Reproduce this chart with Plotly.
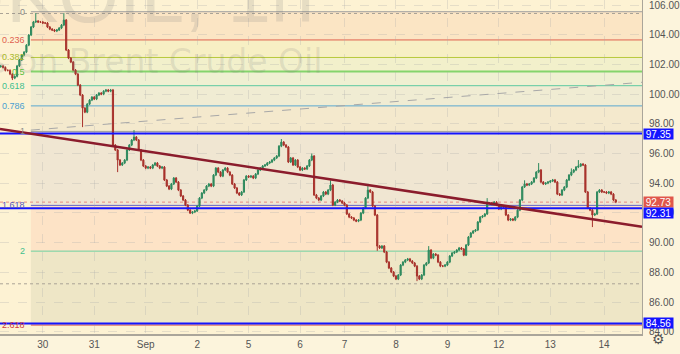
import plotly.graph_objects as go

# ---------------- data ----------------
close = [
    # Aug 29 (partial)
    101.89, 101.80, 101.60, 101.60, 101.35, 101.08, 101.20, 101.90, 102.30, 102.63,
    102.83, 103.30, 103.98, 104.52, 104.86, 104.92, 104.86, 104.86,
    # Aug 30
    104.79, 104.79, 104.52, 104.38, 104.32, 104.25, 104.32, 104.45, 104.65, 104.99,
    102.97, 102.43, 102.16, 101.62, 101.35, 100.61, 99.94, 99.06, 98.79, 99.33,
    99.60, 99.80,
    # Aug 31
    99.67, 99.94, 100.07, 100.00, 100.20, 100.28, 100.20, 100.28, 96.57, 96.24,
    95.56, 95.23, 95.36, 95.56, 96.24, 96.57, 96.91, 97.11, 96.91, 96.24,
    95.56, 95.16,
    # Sep 1
    95.02, 95.09, 95.02, 95.23, 95.36, 95.16, 95.02, 95.09, 94.22, 93.81,
    93.61, 93.95, 94.35, 94.08, 93.54, 93.14, 92.87, 92.53, 92.19, 91.99,
    92.06, 92.13,
    # Sep 2
    92.46, 93.00, 93.34, 93.54, 93.81, 93.95, 93.81, 94.55, 95.02, 94.75,
    94.48, 94.89, 95.02, 94.75, 94.55, 93.95, 93.68, 93.34, 93.21, 93.41,
    94.22, 94.48,
    # Sep 5
    94.42, 94.48, 94.35, 94.62, 94.89, 95.02, 95.16, 95.23, 95.36, 95.43,
    95.56, 95.70, 95.83, 96.50, 96.77, 96.57, 96.44, 95.43, 95.70, 95.23,
    95.56,
    # Sep 6
    95.09, 94.89, 95.02, 94.96, 95.16, 95.56, 95.83, 93.21, 93.00, 92.87,
    93.14, 93.41, 93.27, 93.54, 93.88, 92.53, 92.73, 92.87, 92.80, 92.67,
    # Sep 7
    92.53, 91.93, 91.72, 91.66, 91.52, 91.45, 91.52, 91.99, 92.33, 93.00,
    93.54, 93.41, 92.46, 91.86, 89.77, 89.64, 89.77, 89.37, 88.69, 88.29,
    88.02, 87.75,
    # Sep 8
    87.55, 87.82, 88.49, 88.69, 88.83, 88.90, 88.76, 88.63, 88.42, 87.75,
    87.55, 87.82, 88.49, 88.63, 89.50, 88.96, 89.23, 89.16, 88.69, 88.42,
    88.42, 88.49,
    # Sep 9
    88.69, 89.10, 89.30, 89.37, 89.50, 89.64, 89.57, 89.16, 89.84, 90.38,
    90.65, 90.78, 90.85, 91.39, 91.72, 91.79, 91.93, 92.67, 92.67, 92.60,
    92.73, 92.53,
    # Sep 12
    92.26, 92.46, 92.40, 91.86, 91.52, 91.59, 91.52, 91.72, 92.19, 92.87,
    93.75, 93.95, 93.88, 93.95, 94.08, 94.35, 94.75, 94.89, 94.08, 93.95,
    94.01, 94.08,
    # Sep 13
    94.15, 94.22, 94.08, 93.27, 93.21, 93.54, 93.74, 94.22, 94.55, 94.75,
    94.89, 95.09, 95.16, 95.29, 95.23, 93.41, 92.33, 92.19, 91.86, 91.93,
    93.41, 93.54, 93.41,
    # Sep 14
    93.41, 93.34, 93.41, 93.27, 92.87, 92.73,
]
first_open = 101.85
wick = 0.07
long_highs = {15: 105.46, 27: 105.46, 57: 97.58, 120: 96.98, 133: 96.00, 141: 94.20,
              157: 93.81, 183: 89.77, 208: 93.00, 230: 95.36, 247: 95.56, 224: 94.20,
              244: 95.0}
long_lows = {35: 97.78, 50: 94.75, 81: 91.93, 169: 87.48, 178: 87.41, 253: 91.05,
             5: 100.95, 161: 89.45, 199: 89.1}

day_ticks = [18, 40, 62, 84, 106, 128, 147, 169, 191, 213, 235, 258]
day_labels = ["30", "31", "Sep", "2", "5", "6", "7", "8", "9", "12", "13", "14"]

price_ticks = [84, 86, 88, 90, 92, 94, 96, 98, 100, 102, 104, 106]

fib_levels = ["0", "0.236", "0.382", "0.5", "0.618", "0.786", "1", "1.618", "2", "2.618"]
fib_prices = [105.55, 103.65, 102.47, 101.52, 100.57, 99.21, 97.49, 92.51, 89.43, 84.45]
fib_start_idx = 12.9

trend_idx = [-0.3, 274.2]
trend_price = [97.65, 91.07]
dash_idx = [12.9, 274.2]
dash_price = [97.58, 100.80]

blue_levels = [97.35, 92.31, 84.56]
last_price = 92.73
dotted_levels = [105.43, 87.23]

x_range = [-0.3, 274.2]
y_range = [83.85, 106.34]

# ---------------- styles ----------------
fib_line_colors = ["#9e9e9e", "#e0604e", "#b8c93c", "#84d46c", "#5cc9a0", "#5aa8d0",
                   "#9e9e9e", "#6262c8", "#6bcf9f", "#d9534f"]
fib_text_colors = ["#8a8a8a", "#e0604e", "#a9b92c", "#5cc040", "#3fc08e", "#4a9fd0",
                   "#8a8a8a", "#5656c0", "#3fc08e", "#d04040"]
band_colors = ["#fbe5c4", "#f7efc4", "#f2f0cb", "#eff0d2", "#f0ecd3", "#f4e9cd",
               "#f0e6d2", "#fde3c6", "#eee6c6"]

opens = [first_open] + close[:-1]
highs, lows = [], []
for i, (o, c) in enumerate(zip(opens, close)):
    highs.append(long_highs.get(i, max(o, c) + wick))
    lows.append(long_lows.get(i, min(o, c) - wick))
x = list(range(len(close)))

fig = go.Figure()

shapes = []
for k in range(len(band_colors)):
    shapes.append(dict(type="rect", xref="x", yref="y", x0=fib_start_idx, x1=x_range[1],
                       y0=fib_prices[k + 1], y1=fib_prices[k], fillcolor=band_colors[k],
                       line_width=0, layer="below"))
for k, p in enumerate(fib_prices):
    shapes.append(dict(type="line", xref="x", yref="y", x0=fib_start_idx, x1=x_range[1],
                       y0=p, y1=p, line=dict(color=fib_line_colors[k],
                                             width=2 if fib_levels[k] == "0.5" else 1),
                       layer="below"))
for p in dotted_levels:
    shapes.append(dict(type="line", xref="x", yref="y", x0=x_range[0], x1=x_range[1],
                       y0=p, y1=p, line=dict(color="#aaa396", width=1, dash="dot"),
                       layer="below"))
shapes.append(dict(type="line", xref="x", yref="y", x0=x_range[0], x1=x_range[1],
                   y0=last_price, y1=last_price,
                   line=dict(color="#e48a80", width=1, dash="dot"), layer="below"))

fig.update_layout(shapes=shapes)

fig.add_trace(go.Scatter(x=dash_idx, y=dash_price, mode="lines",
                         line=dict(color="#a8a8a8", width=1, dash="dash"),
                         hoverinfo="skip", showlegend=False))

fig.add_trace(go.Candlestick(
    x=x, open=opens, high=highs, low=lows, close=close,
    increasing=dict(line=dict(color="#2e8a5e", width=1), fillcolor="#2e8a5e"),
    decreasing=dict(line=dict(color="#a8322c", width=1), fillcolor="#a8322c"),
    showlegend=False, hoverinfo="skip"))

for p in blue_levels:
    fig.add_trace(go.Scatter(x=x_range, y=[p, p], mode="lines",
                             line=dict(color="#1414ff", width=2),
                             hoverinfo="skip", showlegend=False))

fig.add_trace(go.Scatter(x=trend_idx, y=trend_price, mode="lines",
                         line=dict(color="#8b1c2c", width=2.6),
                         hoverinfo="skip", showlegend=False))

ann = []
# watermark
ann.append(dict(text="UKOIL, 1h", xref="paper", yref="paper", x=0.205, y=1.014,
                xanchor="center", yanchor="middle", showarrow=False,
                font=dict(size=78, color="rgba(120,120,120,0.17)", family="Liberation Sans")))
ann.append(dict(text="CFDs on Brent Crude Oil", xref="paper", yref="paper", x=326 / 645,
                y=0.815, xanchor="right", yanchor="middle", showarrow=False,
                font=dict(size=33, color="rgba(120,120,120,0.17)", family="DejaVu Sans")))
# fib labels
for k, p in enumerate(fib_prices):
    ann.append(dict(text=fib_levels[k], xref="paper", yref="y", x=27 / 645, y=p,
                    xanchor="right", yanchor="middle", showarrow=False,
                    font=dict(size=9, color=fib_text_colors[k], family="Liberation Sans")))
# price labels on axis
labels = [(97.35, "97.35", "#1414ff", 0), (92.73, "92.73", "#e0574b", 0),
          (92.31, "92.31", "#1414ff", -5), (84.56, "84.56", "#1414ff", 0)]
for p, t, c, ys in labels:
    ann.append(dict(text=t, xref="paper", yref="y", x=1.0016, y=p, yshift=ys,
                    xanchor="left", yanchor="middle", showarrow=False,
                    bgcolor=c, width=29, height=10, borderpad=0,
                    font=dict(size=10, color="white", family="Liberation Sans")))
ann.append(dict(text="\u2699", xref="paper", yref="paper", x=1.025, y=-0.015,
                xanchor="center", yanchor="middle", showarrow=False,
                font=dict(size=14, color="#555555", family="DejaVu Sans")))

fig.update_layout(
    annotations=ann,
    width=680, height=354,
    margin=dict(l=0, r=35, t=0, b=20),
    paper_bgcolor="#fcf4dc",
    plot_bgcolor="#fdf2d3",
    showlegend=False,
    xaxis=dict(range=x_range, rangeslider=dict(visible=False), tickmode="array",
               tickvals=day_ticks, ticktext=day_labels, showgrid=True,
               gridcolor="rgba(170,170,170,0.28)", griddash="dash", gridwidth=1,
               zeroline=False, showline=True, linecolor="#aaa59a", linewidth=2,
               ticks="", tickfont=dict(size=10, color="#555555", family="Liberation Sans")),
    yaxis=dict(range=y_range, side="right", tickmode="array", tickvals=price_ticks,
               ticktext=["%.2f" % v for v in price_ticks], showgrid=True,
               gridcolor="rgba(170,170,170,0.28)", griddash="dash", gridwidth=1,
               zeroline=False, showline=True, linecolor="#aaa59a", linewidth=1,
               ticks="", ticklabelstandoff=4, ticklabeloverflow="allow",
               tickfont=dict(size=10, color="#555555", family="Liberation Sans")),
)

fig.write_html("out.html")
